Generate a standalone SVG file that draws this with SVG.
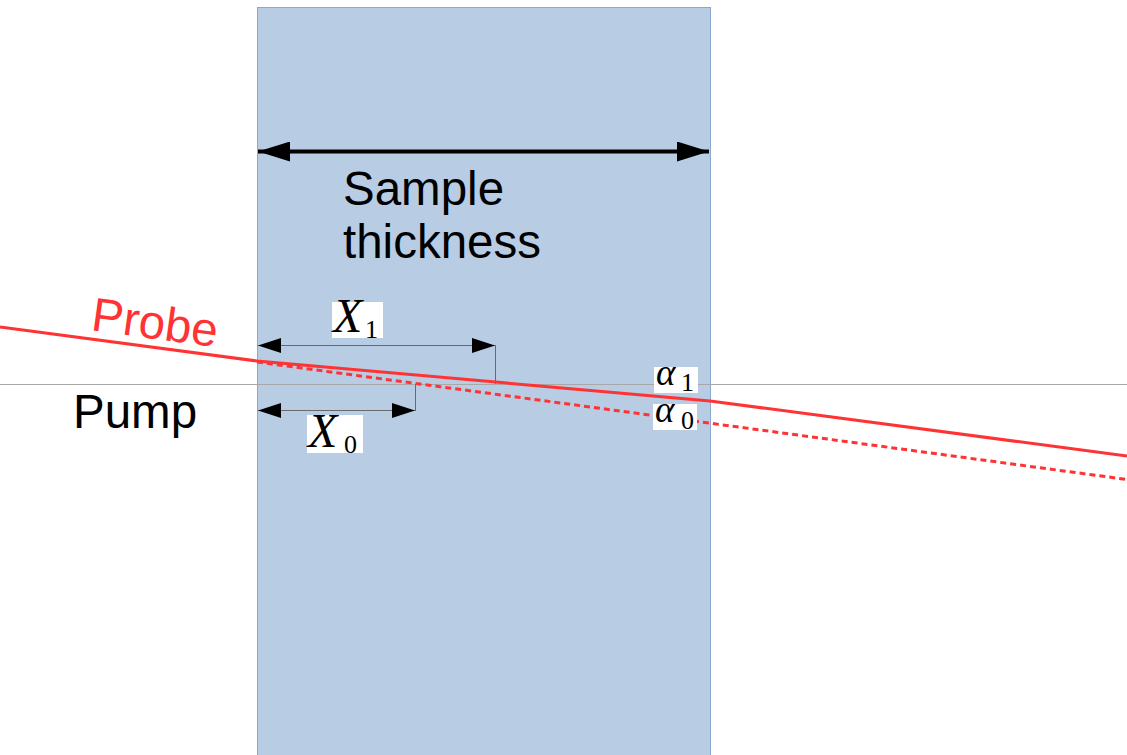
<svg xmlns="http://www.w3.org/2000/svg" width="1127" height="755" viewBox="0 0 1127 755">
<style>
.lbl{font-family:"Liberation Sans",Arial,sans-serif;font-size:47.5px;fill:#000}
.math{font-family:"Liberation Serif","Times New Roman",serif;font-style:italic;fill:#000}
.sub{font-family:"Liberation Serif","Times New Roman",serif;fill:#000}
.dim{stroke:#6a6a6a;stroke-width:1;fill:none}
.ray{stroke:#ff3333;stroke-width:3;fill:none}
.box{fill:#fff}
</style>
<defs>
<marker id="bigL" viewBox="0 0 32 20" refX="0" refY="10" markerWidth="32" markerHeight="20" markerUnits="userSpaceOnUse" orient="auto"><path d="M0,10 L32,0 L32,20 Z" fill="#000"/></marker>
<marker id="bigR" viewBox="0 0 32 20" refX="32" refY="10" markerWidth="32" markerHeight="20" markerUnits="userSpaceOnUse" orient="auto"><path d="M32,10 L0,0 L0,20 Z" fill="#000"/></marker>
<marker id="smL" viewBox="0 0 23 15" refX="0" refY="7.5" markerWidth="23" markerHeight="15" markerUnits="userSpaceOnUse" orient="auto"><path d="M0,7.5 L23,0 L23,15 Z" fill="#000"/></marker>
<marker id="smR" viewBox="0 0 23 15" refX="23" refY="7.5" markerWidth="23" markerHeight="15" markerUnits="userSpaceOnUse" orient="auto"><path d="M23,7.5 L0,0 L0,15 Z" fill="#000"/></marker>
</defs>
<rect width="1127" height="755" fill="#fff"/>
<g id="sample">
<rect x="257.5" y="7.5" width="453" height="760" fill="#b8cde4" stroke="#8aa8cf" stroke-width="1"/>
</g>
<g id="connectors">
<line x1="0" y1="384.5" x2="1127" y2="384.5" stroke="#a8a8a8" stroke-width="1"/>
<line x1="258" y1="151.5" x2="709" y2="151.5" stroke="#000" stroke-width="4" marker-start="url(#bigL)" marker-end="url(#bigR)"/>
<line class="dim" x1="258" y1="345.5" x2="495" y2="345.5" marker-start="url(#smL)" marker-end="url(#smR)"/>
<line class="dim" x1="495.5" y1="345" x2="495.5" y2="384"/>
<line class="dim" x1="258" y1="410.5" x2="415" y2="410.5" marker-start="url(#smL)" marker-end="url(#smR)"/>
<line class="dim" x1="415.5" y1="384" x2="415.5" y2="411"/>
<polyline class="ray" points="0,327 257,361 710,401 1127,456"/>
<line class="ray" x1="257" y1="362" x2="1127" y2="479.5" stroke-dasharray="6,4"/>
</g>
<g id="label-sample">
<text class="lbl" x="343" y="205">Sample</text>
<text class="lbl" x="343" y="258">thickness</text>
</g>
<g id="label-pump">
<text class="lbl" x="73" y="428">Pump</text>
</g>
<g id="label-probe">
<text class="lbl" x="90" y="330" fill="#ff3333" style="fill:#ff3333" transform="rotate(7.8 90 330)">Probe</text>
</g>
<g id="label-x1">
<rect class="box" x="332" y="302" width="51" height="36"/>
<text class="math" x="333" y="332" font-size="48">X</text>
<text class="sub" x="365" y="338" font-size="26">1</text>
</g>
<g id="label-x0">
<rect class="box" x="307" y="415" width="56" height="38"/>
<text class="math" x="308" y="447" font-size="48">X</text>
<text class="sub" x="344" y="453" font-size="26">0</text>
</g>
<g id="label-a1">
<rect class="box" x="654" y="367" width="44" height="26"/>
<text class="math" x="656" y="385" font-size="37">α</text>
<text class="sub" x="681" y="391" font-size="26">1</text>
</g>
<g id="label-a0">
<rect class="box" x="653" y="404" width="44" height="26"/>
<text class="math" x="655" y="422" font-size="37">α</text>
<text class="sub" x="681" y="429" font-size="26">0</text>
</g>
</svg>
